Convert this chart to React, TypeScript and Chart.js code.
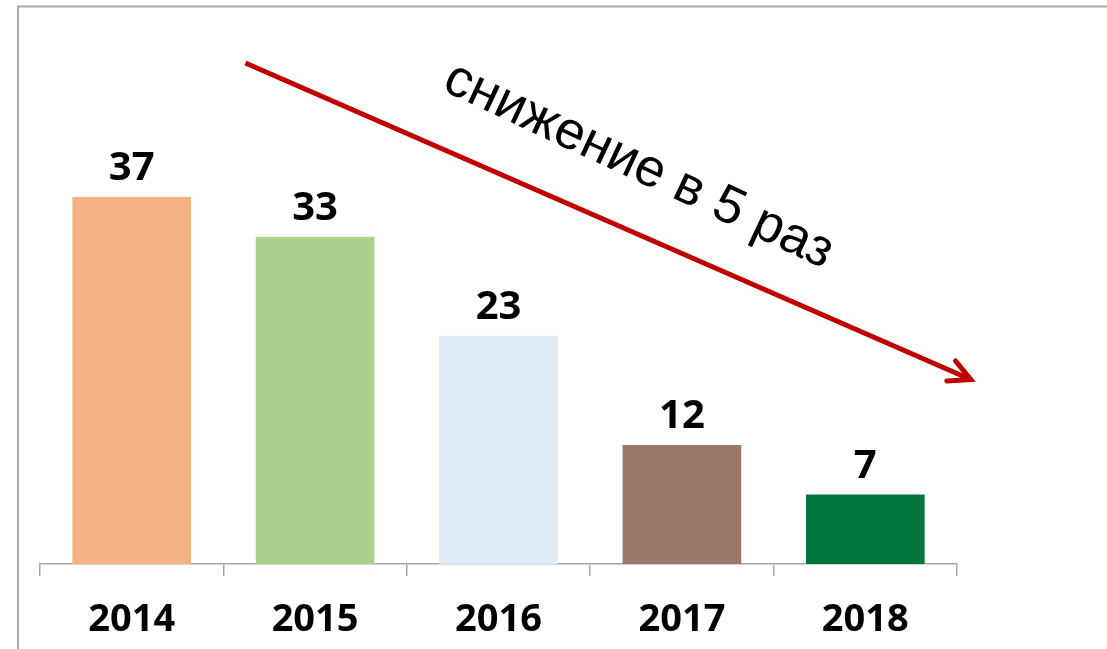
import React, { useEffect, useRef } from "react";
import { Chart, registerables } from "chart.js";

Chart.register(...registerables);

const categories = ["2014", "2015", "2016", "2017", "2018"];
const values = [37, 33, 23, 12, 7];
const barColors = ["#F4B183", "#A9D18E", "#DEEBF7", "#997868", "#00763A"];
const arrowFrom = [0.62, 50.5];
const arrowTo = [4.575, 18.6];
const arrowText = "снижение в 5 раз";
const arrowTextAt = [2.73, 38.8];

const overlayPlugin = {
  id: "overlay",
  afterDraw(chart: any) {
    const { ctx, scales } = chart;
    const xs = scales.x;
    const ys = scales.y;
    ctx.save();
    // frame
    ctx.strokeStyle = "#a9a9a9";
    ctx.lineWidth = 2;
    ctx.beginPath();
    ctx.moveTo(18, chart.height);
    ctx.lineTo(18, 6.5);
    ctx.lineTo(chart.width, 6.5);
    ctx.stroke();

    // value labels
    const meta = chart.getDatasetMeta(0);
    ctx.fillStyle = "#000";
    ctx.font = "bold 40px 'Open Sans'";
    ctx.textAlign = "center";
    ctx.textBaseline = "alphabetic";
    meta.data.forEach((bar: any, i: number) => {
      ctx.fillText(String(values[i]), bar.x, bar.y - 17);
    });

    // arrow
    const x1 = xs.getPixelForValue(arrowFrom[0]);
    const y1 = ys.getPixelForValue(arrowFrom[1]);
    const x2 = xs.getPixelForValue(arrowTo[0]);
    const y2 = ys.getPixelForValue(arrowTo[1]);
    const ang = Math.atan2(y2 - y1, x2 - x1);
    ctx.strokeStyle = "#C00000";
    ctx.lineWidth = 5;
    ctx.lineCap = "butt";
    ctx.beginPath();
    ctx.moveTo(x1, y1);
    ctx.lineTo(x2, y2);
    ctx.stroke();
    const hl = 24;
    const ha = (27 * Math.PI) / 180;
    ctx.lineCap = "round";
    ctx.lineJoin = "miter";
    ctx.beginPath();
    ctx.moveTo(x2 - hl * Math.cos(ang - ha), y2 - hl * Math.sin(ang - ha));
    ctx.lineTo(x2, y2);
    ctx.lineTo(x2 - hl * Math.cos(ang + ha), y2 - hl * Math.sin(ang + ha));
    ctx.stroke();

    // rotated text
    const tx = xs.getPixelForValue(arrowTextAt[0]);
    const ty = ys.getPixelForValue(arrowTextAt[1]);
    ctx.translate(tx, ty);
    ctx.rotate(ang + (1.5 * Math.PI) / 180);
    ctx.fillStyle = "#000";
    ctx.font = "53px 'Liberation Sans'";
    ctx.textAlign = "center";
    ctx.textBaseline = "alphabetic";
    ctx.fillText(arrowText, 0, 0);
    ctx.restore();
  },
};

export default function App() {
  const ref = useRef<HTMLCanvasElement | null>(null);
  useEffect(() => {
    document.body.style.margin = "0";
    const chart = new Chart(ref.current as HTMLCanvasElement, {
      type: "bar",
      data: {
        labels: categories,
        datasets: [
          {
            data: values,
            backgroundColor: barColors,
            borderWidth: 0,
            categoryPercentage: 1,
            barPercentage: 0.647,
          },
        ],
      },
      options: {
        animation: false,
        responsive: false,
        maintainAspectRatio: false,
        layout: { padding: { left: 40, right: 150, top: 68, bottom: 0 } },
        plugins: { legend: { display: false }, tooltip: { enabled: false } },
        scales: {
          x: {
            offset: true,
            grid: {
              display: true,
              drawOnChartArea: false,
              offset: true,
              tickLength: 12,
              color: "#a6a6a6",
              lineWidth: 1.5,
            },
            border: { display: true, color: "#a6a6a6", width: 1.5 },
            ticks: {
              color: "#000",
              padding: 21,
              font: { family: "'Open Sans'", size: 38, weight: "bold", lineHeight: 1.2 },
            },
            afterFit: (scale: any) => {
              scale.height = 85;
            },
          },
          y: { display: false, min: 0, max: 50 },
        },
      },
      plugins: [overlayPlugin],
    } as any);
    return () => chart.destroy();
  }, []);
  return (
    <div style={{ position: "absolute", left: 0, top: 0, width: 1107, height: 649, background: "#fff" }}>
      <canvas ref={ref} width={1107} height={649} style={{ width: 1107, height: 649 }} />
    </div>
  );
}
